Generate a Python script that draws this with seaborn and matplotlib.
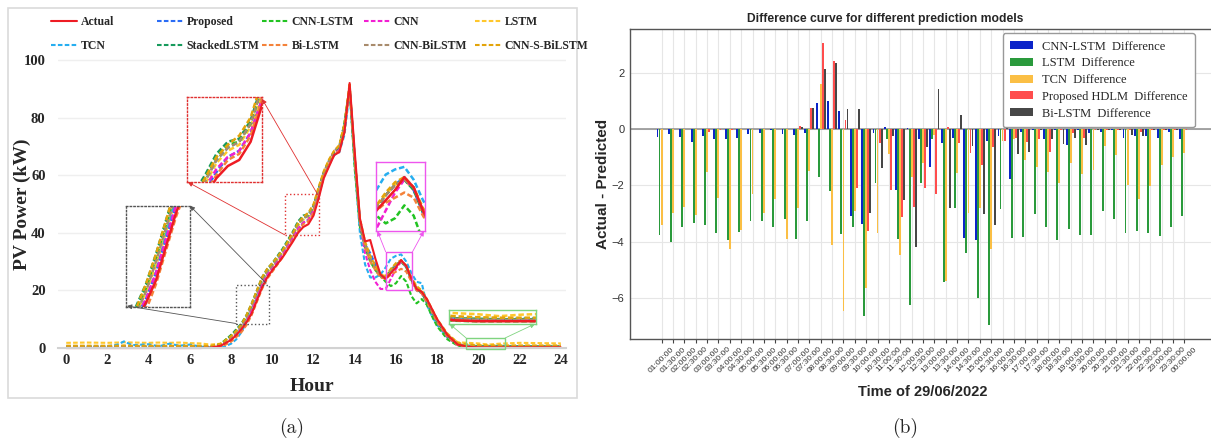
import numpy as np
import pandas as pd
import matplotlib
matplotlib.use('Agg')
import matplotlib.pyplot as plt
import seaborn as sns
from matplotlib.patches import Rectangle
from matplotlib.lines import Line2D

# ---------------- Panel (a) data: PV power (kW) vs hour ----------------
hours = [0, 1, 2, 2.5, 2.8, 3.2, 4, 4.5, 5, 5.5,
         6, 6.5, 7, 7.5, 8, 8.25, 8.5, 8.75, 9, 9.25,
         9.5, 9.75, 10, 10.5, 11, 11.25, 11.5, 11.75, 12, 12.25,
         12.5, 12.75, 13, 13.25, 13.5, 13.75, 14, 14.25, 14.5, 14.75,
         15, 15.25, 15.5, 15.75, 16, 16.25, 16.5, 16.75, 17, 17.25,
         17.5, 17.75, 18, 18.5, 19, 19.5, 20, 20.5, 21, 22,
         23, 24]

actual = [0, 0, 0, 0, 0, 0, 0, 0, 0, 0,
          0, 0, 0.1, 0.8, 2.8, 4.5, 6.5, 9, 12, 16.5,
          21, 24.5, 27, 31.5, 37, 40, 42, 43, 46, 52,
          59, 63, 67, 68, 75, 92, 68, 45, 37, 37.5,
          31, 25.5, 24, 26, 28, 30.5, 28.5, 24, 20.5, 19.5,
          17, 13.5, 10, 4.5, 1.2, 0.4, 0.2, 0.2, 0.2, 0.2,
          0.2, 0.2]
proposed = [0.2, 0.2, 0.2, 0.2, 0.3, 0.2, 0.2, 0.2, 0.2, 0.2,
            0.2, 0.2, 0, 0.5, 3, 4.8, 7, 9.5, 13, 17.5,
            22, 25, 27.5, 32, 38, 41, 43.5, 44.5, 47.5, 53,
            59.5, 63.5, 67, 69, 76, 91, 66, 44, 36, 33,
            29, 25, 24.5, 27, 29, 30.5, 28, 23.5, 20, 19,
            16, 12.5, 9, 4, 1, 0.4, 0.3, 0.3, 0.3, 0.3,
            0.3, 0.3]
cnn_lstm = [0.1, 0.1, 0.1, 0.1, 0.1, 0.1, 0.1, 0.1, 0.1, 0.1,
            0.1, 0.1, 0.2, 1.5, 4.5, 6, 8, 11, 15, 19.5,
            24, 27, 29, 34, 40, 43.5, 45.5, 46, 49, 55,
            61, 65, 68, 70, 78, 90, 62, 42, 35, 30,
            27, 25, 23, 21.5, 22.5, 25, 23, 18, 15.5, 17,
            15, 11, 7.5, 3, 0.8, 0.3, 0.2, 0.2, 0.2, 0.2,
            0.2, 0.2]
cnn = [0.3, 0.3, 0.3, 0.3, 0.4, 0.3, 0.3, 0.3, 0.3, 0.3,
       0.3, 0.3, 0.1, 0.8, 3.2, 5, 7, 9.5, 13, 17.5,
       22, 25.5, 28, 32.5, 38.5, 41.5, 43.5, 44.5, 47.5, 53,
       60, 64, 67.5, 69, 76, 90, 66, 44, 33, 27,
       23, 20.5, 20.5, 24, 27.5, 30, 28.5, 24, 20.5, 19,
       16, 12.5, 9, 3.8, 1, 0.5, 0.3, 0.3, 0.3, 0.3,
       0.3, 0.3]
lstm = [1.8, 1.9, 1.8, 1.9, 2.0, 1.9, 1.8, 1.9, 1.8, 1.9,
        1.7, 1.6, 1.2, 1.5, 4, 5.5, 7.5, 10.5, 14, 18.5,
        23, 26, 28.5, 33, 39, 42.5, 44.5, 45.5, 48.5, 54,
        60.5, 64.5, 68, 70, 77, 90, 64, 43, 35, 31,
        28, 25.5, 25, 27, 29, 30, 28, 24, 21, 19.5,
        16.5, 13, 9.5, 4.5, 2, 1.8, 1.6, 1.2, 1.5, 1.8,
        1.7, 1.6]
tcn = [0.3, 0.5, 0.6, 1.2, 2.3, 1.0, 1.3, 0.6, 1.5, 0.8,
       1.2, 0.5, 0.2, 0.0, 1.5, 3, 5.5, 9, 13, 18,
       23, 26.5, 29, 33.5, 39.5, 43, 45, 46, 49, 55,
       61, 65, 67, 68, 74, 89, 63, 40, 29, 24.5,
       24.5, 25.5, 28, 31, 32, 32.5, 30, 26, 23, 22.5,
       15, 11, 8, 3.5, 1.2, 0.8, 0.6, 0.5, 0.8, 0.6,
       0.5, 0.5]
stacked_lstm = [0.6, 0.6, 0.6, 0.6, 0.7, 0.6, 0.6, 0.6, 0.6, 0.6,
                0.6, 0.6, 0.5, 1.2, 4.5, 6.5, 8.5, 11.5, 15.5, 20,
                24.5, 27.5, 29.5, 34.5, 40.5, 44, 46, 46.5, 49.5, 55.5,
                61, 65, 68, 70, 78, 91, 65, 44, 36, 31,
                28, 25, 24.5, 27, 29, 30, 28, 23.5, 20.5, 19,
                16, 12.5, 9, 4, 1.2, 0.8, 0.7, 0.6, 0.6, 0.6,
                0.6, 0.6]
bi_lstm = [0.1, 0.1, 0.1, 0.1, 0.1, 0.1, 0.1, 0.1, 0.1, 0.1,
           0.1, 0.1, 0, 0.3, 2.2, 3.8, 5.5, 8, 11.5, 16,
           20.5, 24, 26.5, 31.5, 37.5, 40.5, 43, 44, 47, 53,
           59.5, 63.5, 67, 68.5, 75, 90, 66, 44, 35, 30,
           27, 24.5, 24, 25.5, 26.5, 27.5, 26.5, 23, 20, 19,
           16, 12.5, 9, 4, 1, 0.4, 0.3, 0.3, 0.3, 0.3,
           0.3, 0.3]
cnn_bilstm = [0.4, 0.4, 0.4, 0.4, 0.5, 0.4, 0.4, 0.4, 0.4, 0.4,
              0.4, 0.4, 0.3, 1, 3.6, 5.5, 7.5, 10.5, 14.5, 19,
              23.5, 26.5, 28.5, 33.5, 39.5, 43, 45, 46, 49, 55,
              61, 65, 68.5, 70, 77, 91, 65, 44, 36, 31,
              28, 25, 24.5, 27, 29, 30, 28.5, 24, 21, 19.5,
              16.5, 13, 9.5, 4.5, 1.4, 0.7, 0.5, 0.5, 0.5, 0.5,
              0.5, 0.5]
cnn_s_bilstm = [0.8, 0.8, 0.8, 0.8, 0.9, 0.8, 0.8, 0.8, 0.8, 0.8,
                0.8, 0.8, 0.7, 1.5, 4.2, 6, 8.2, 11.5, 15.5, 20,
                24.5, 27.5, 29.5, 34, 40, 43.5, 45.5, 47, 50, 56,
                61.5, 65.5, 68.5, 70.5, 78, 92, 66, 45, 37, 32,
                28.5, 25.5, 25, 27.5, 29.5, 30.5, 28.5, 24.5, 21.5, 20,
                17, 13.5, 10, 5, 1.8, 1.2, 1.0, 0.9, 0.9, 0.9,
                0.9, 0.9]

series_names = ['Actual', 'Proposed', 'CNN-LSTM', 'CNN', 'LSTM',
                'TCN', 'StackedLSTM', 'Bi-LSTM', 'CNN-BiLSTM', 'CNN-S-BiLSTM']
series_values = [actual, proposed, cnn_lstm, cnn, lstm,
                 tcn, stacked_lstm, bi_lstm, cnn_bilstm, cnn_s_bilstm]
series_colors = ['#ee1c24', '#2a6cf5', '#22c322', '#f21fd2', '#ffc72c',
                 '#26aef0', '#179a5c', '#f4823a', '#a88b6c', '#e3a40a']
x_ticks_a = [0, 2, 4, 6, 8, 10, 12, 14, 16, 18, 20, 22, 24]
y_ticks_a = [0, 20, 40, 60, 80, 100]

# ---------------- Panel (b) data: Actual - Predicted ----------------
times = ['01:00:00', '01:30:00', '02:00:00', '02:30:00', '03:00:00', '03:30:00',
         '04:00:00', '04:30:00', '05:00:00', '05:30:00', '06:00:00', '06:30:00',
         '07:00:00', '07:30:00', '08:00:00', '08:30:00', '09:00:00', '09:30:00',
         '10:00:00', '10:30:00', '11:00:00', '11:30:00', '12:00:00', '12:30:00',
         '13:00:00', '13:30:00', '14:00:00', '14:30:00', '15:00:00', '15:30:00',
         '16:00:00', '16:30:00', '17:00:00', '17:30:00', '18:00:00', '18:30:00',
         '19:00:00', '19:30:00', '20:00:00', '20:30:00', '21:00:00', '21:30:00',
         '22:00:00', '22:30:00', '23:00:00', '23:30:00', '00:00:00']
cnn_lstm_diff = [-0.27, -0.18, -0.28, -0.47, -0.24, -0.34, -0.34, -0.31, -0.17, -0.15,
                 -0.05, -0.18, -0.21, -0.15, 0.91, 1.0, 0.64, -3.1, -3.38, -0.15,
                 0.06, -2.17, 0.02, -0.36, -1.34, -0.51, -0.33, -3.87, -3.93, -0.43,
                 -0.25, -1.76, -0.12, -0.03, -0.37, -0.05, -0.57, -0.03, -0.13, -0.12,
                 -0.05, -0.3, -0.25, -0.25, -0.3, -0.1, -0.36]
lstm_diff = [-3.77, -3.99, -3.48, -3.33, -3.42, -3.68, -3.93, -3.67, -3.26, -3.26,
             -3.48, -3.2, -3.91, -3.26, -1.7, -2.19, -3.71, -3.48, -6.64, -1.91,
             -0.37, -3.89, -6.24, -1.91, -0.37, -5.43, -2.79, -4.39, -6.0, -6.95,
             -2.82, -3.87, -3.83, -3.0, -3.48, -3.95, -3.54, -3.77, -3.75, -2.92,
             -3.2, -3.68, -3.63, -3.68, -3.8, -3.48, -3.1]
tcn_diff = [-3.42, -2.98, -2.76, -3.04, -1.54, -2.44, -4.25, -3.59, -2.31, -2.97,
            -2.49, -3.91, -2.8, -1.48, 1.6, -4.13, -6.44, -2.9, -5.65, -3.68,
            -0.87, -4.48, -1.7, -1.2, -0.21, -5.4, -1.55, -2.98, -2.79, -4.25,
            -0.44, -0.36, -1.1, -1.36, -1.52, -1.93, -1.2, -1.58, -1.44, -0.6,
            -0.93, -1.99, -2.47, -2.02, -1.28, -0.98, -0.84]
hdlm_diff = [0.0, 0.0, 0.0, 0.0, -0.12, -0.05, -0.02, 0.0, 0.0, 0.0,
             0.0, 0.0, 0.1, 0.75, 3.05, 2.4, 0.32, -2.09, -3.63, -0.51,
             -2.15, -3.12, -2.76, -2.08, -2.29, 0.08, -0.51, -0.84, -1.26, -0.65,
             -0.42, -0.33, -0.45, -0.37, -0.83, -0.02, -0.15, -0.3, -0.02, -0.05,
             -0.03, -0.05, -0.1, -0.05, -0.03, -0.02, -0.02]
bilstm_diff = [0.0, 0.0, 0.0, 0.0, 0.0, 0.0, 0.0, 0.0, 0.0, 0.0,
               0.0, 0.0, 0.08, 0.75, 2.12, 2.34, 0.7, 0.7, -2.98, -1.38,
               -0.25, -2.53, -4.19, -0.64, 1.42, -2.79, 0.51, -0.6, -3.0, -3.39,
               0.15, -0.87, -0.82, -0.02, -0.36, -0.53, -0.3, -0.55, -0.02, -0.05,
               -0.03, -0.21, -0.25, -0.05, -0.03, -0.02, 0.0]
diff_names = ['CNN-LSTM  Difference', 'LSTM  Difference', 'TCN  Difference',
              'Proposed HDLM  Difference', 'Bi-LSTM  Difference']
diff_colors = ['#0b24c9', '#2a9a3c', '#fbbf45', '#ff4d4d', '#474747']
y_ticks_b = [-6, -4, -2, 0, 2]

# ---------------- Figure ----------------
sns.set_style('whitegrid')
plt.rcParams['font.family'] = ['Liberation Sans', 'DejaVu Sans']
plt.rcParams['axes.unicode_minus'] = True

W, H = 1211, 440
fig = plt.figure(figsize=(W / 100, H / 100), dpi=100)


def fx(px):
    return px / W


def fy(py):
    return 1 - py / H


SERIF = ['Liberation Serif', 'DejaVu Serif']

# frame around panel (a)
fig.patches.append(Rectangle((fx(8), fy(398)), fx(577) - fx(8), fy(8) - fy(398),
                             transform=fig.transFigure, fill=False,
                             edgecolor='#dadada', lw=1.2))

# ---- panel (a) axes ----
axA = fig.add_axes([fx(58), fy(350.9), fx(566) - fx(58), (350.9 - 57.1) / H])
axA.set_facecolor('white')
dash = (0, (2.2, 1.1))
styles = ['-'] + [dash] * 9
draw_order = [4, 5, 1, 2, 3, 6, 7, 8, 9, 0]
for i in draw_order:
    sns.lineplot(x=hours, y=series_values[i], ax=axA, color=series_colors[i],
                 linestyle=styles[i], linewidth=1.5, label=series_names[i])
if axA.get_legend() is not None:
    axA.get_legend().remove()

axA.set_xlim(-0.4, 24.25)
axA.set_ylim(-1, 101)
axA.set_xticks(x_ticks_a)
axA.set_yticks(y_ticks_a)
axA.grid(False)
axA.yaxis.grid(True, color='#efefef', lw=1.0)
for s in ['top', 'right', 'left']:
    axA.spines[s].set_visible(False)
axA.spines['bottom'].set_position(('data', 0))
axA.spines['bottom'].set_color('#d2d2d2')
axA.spines['bottom'].set_linewidth(1.5)
axA.tick_params(axis='both', length=0, labelsize=10.5)
axA.tick_params(axis='x', pad=4)
axA.tick_params(axis='y', pad=9)
for lab in axA.get_xticklabels() + axA.get_yticklabels():
    lab.set_fontfamily(SERIF)
    lab.set_fontweight('bold')
axA.set_xlabel('Hour', fontfamily=SERIF, fontweight='bold', fontsize=14, labelpad=8)
axA.set_ylabel('PV Power (kW)', fontfamily=SERIF, fontweight='bold', fontsize=14)
axA.yaxis.set_label_coords((31 - 58) / 508, 0.5)


def add_inset(src, dst, ec, ls, arrows, view=None):
    sx0, sx1, sy0, sy1 = src
    dx0, dx1, dy0, dy1 = dst
    axA.add_patch(Rectangle((sx0, sy0), sx1 - sx0, sy1 - sy0, fill=False,
                            edgecolor=ec, linestyle=ls, lw=1.0, zorder=5))
    ins = axA.inset_axes([dx0, dy0, dx1 - dx0, dy1 - dy0], transform=axA.transData)
    for i in draw_order:
        sns.lineplot(x=hours, y=series_values[i], ax=ins, color=series_colors[i],
                     linestyle=styles[i], linewidth=1.8, legend=False)
    v = view if view is not None else src
    ins.set_xlim(v[0], v[1])
    ins.set_ylim(v[2], v[3])
    ins.set_xticks([])
    ins.set_yticks([])
    ins.set_xlabel('')
    ins.set_ylabel('')
    ins.grid(False)
    ins.patch.set_alpha(0)
    for sp in ins.spines.values():
        sp.set_visible(True)
        sp.set_edgecolor(ec)
        sp.set_linestyle(ls)
        sp.set_linewidth(1.0)
    for (a, b) in arrows:
        axA.annotate('', xy=b, xytext=a,
                     arrowprops=dict(arrowstyle='-|>', color=ec, lw=0.6,
                                     mutation_scale=7, shrinkA=0, shrinkB=0))


add_inset((8.25, 9.85, 8.5, 22), (2.9, 6.0, 14.4, 49.4), '#555555', ':',
          [((9.7, 22.5), (6.0, 49.4)), ((8.25, 8.5), (2.95, 14.6))])
add_inset((10.6, 12.25, 39.3, 53.3), (5.85, 9.5, 57.5, 87.0), '#e03030', ':',
          [((12.2, 53.3), (9.5, 86.5)), ((10.6, 39.3), (5.9, 57.6))])
add_inset((15.5, 16.8, 20.0, 33.4), (15.05, 17.4, 40.6, 64.5), '#ee55ee', '-',
          [((15.5, 33.4), (15.1, 40.6)), ((16.8, 33.4), (17.35, 40.6))])
add_inset((19.4, 21.3, -0.2, 3.5), (18.55, 22.8, 8.4, 13.2), '#7fd47f', '-',
          [((19.4, 3.5), (18.6, 8.4)), ((21.3, 3.5), (22.75, 8.4))],
          view=(19.4, 21.3, -0.3, 2.4))

# legend of panel (a): 5 columns x 2 rows placed on an even grid
handles = {}
for i, n in enumerate(series_names):
    handles[n] = Line2D([0], [0], color=series_colors[i], linestyle=styles[i], lw=1.5)
col_x = [51, 157, 262, 364, 475]
for c in range(5):
    names = [series_names[c], series_names[c + 5]]
    fig.legend([handles[n] for n in names], names, loc='upper left',
               bbox_to_anchor=(fx(col_x[c]), fy(16)), borderpad=0, borderaxespad=0,
               frameon=False, handlelength=2.2, handletextpad=0.3, labelspacing=1.0,
               prop=dict(family=SERIF, weight='bold', size=8.5))

# ---- panel (b) axes ----
axB = fig.add_axes([fx(630), fy(339.3), fx(1216) - fx(630), (339.3 - 29.3) / H])
wide = pd.DataFrame({'Time': times})
for n, v in zip(diff_names, [cnn_lstm_diff, lstm_diff, tcn_diff, hdlm_diff, bilstm_diff]):
    wide[n] = v
long = wide.melt(id_vars='Time', var_name='Model', value_name='Diff')
sns.barplot(data=long, x='Time', y='Diff', hue='Model', hue_order=diff_names,
            order=times, palette=diff_colors, width=0.9, gap=0.08, errorbar=None,
            saturation=1, linewidth=0, ax=axB, zorder=3)
axB.axhline(0, color='#8c8c8c', lw=1.1, zorder=2)
axB.set_xlim(-2.78, 48.78)
axB.set_ylim(-7.46, 3.54)
axB.set_yticks(y_ticks_b)
axB.grid(True, color='#e6e6e6', lw=0.8)
axB.set_axisbelow(True)
for s in axB.spines.values():
    s.set_color('#555555')
    s.set_linewidth(1.0)
axB.set_xticks(range(len(times)))
axB.set_xticklabels(times, rotation=45, ha='center', fontsize=6, color='#333333')
axB.tick_params(axis='x', bottom=True, length=3, width=0.8, color='#444444', pad=1.5)
axB.tick_params(axis='y', labelsize=8, labelcolor='#333333', length=0, pad=4)
axB.set_xlabel('Time of 29/06/2022', fontsize=10.5, fontweight='bold', labelpad=8)
axB.set_ylabel('Actual - Predicted', fontsize=11, fontweight='bold', labelpad=1)
axB.set_title('Difference curve for different prediction models', fontsize=8.7,
              fontweight='bold', x=0.435, pad=5)
h, l = axB.get_legend_handles_labels()
axB.legend(h, l, loc='upper left', bbox_to_anchor=(0.6365, 0.988), borderaxespad=0,
           prop=dict(family=SERIF, size=9), frameon=True, edgecolor='#999999',
           facecolor='white', framealpha=1, handlelength=1.8, handleheight=0.6,
           handletextpad=0.7, labelspacing=0.38, borderpad=0.6)

# captions
fig.text(fx(292), fy(428), '(a)', fontfamily=['cmr10', 'DejaVu Serif'], fontsize=14,
         ha='center', va='center')
fig.text(fx(905), fy(428), '(b)', fontfamily=['cmr10', 'DejaVu Serif'], fontsize=14,
         ha='center', va='center')

fig.savefig('out.png', dpi=100)
